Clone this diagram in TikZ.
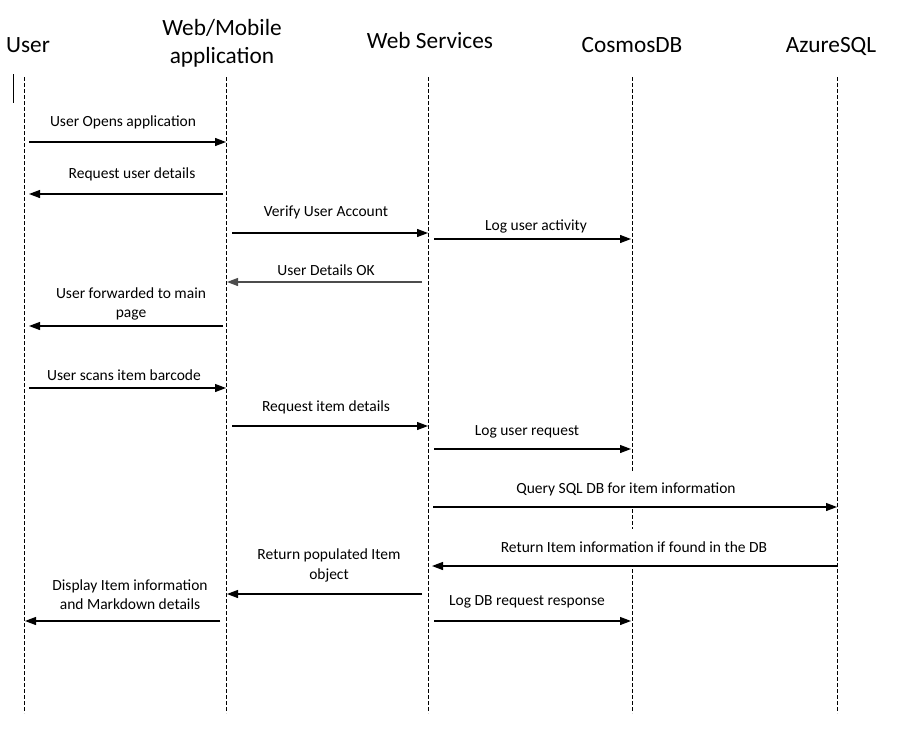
\documentclass[tikz,border=0pt]{standalone}
\usepackage{fontspec}
\setmainfont{Carlito}
\usetikzlibrary{arrows.meta}
\begin{document}
\begin{tikzpicture}[x=1pt,y=-1pt,
  head/.style={font=\fontsize{23.3}{28}\selectfont, align=center, inner sep=0pt},
  lbl/.style={font=\fontsize{15.5}{19.5}\selectfont, align=center, inner sep=1pt},
  life/.style={draw=black, line width=0.9pt, dash pattern=on 4pt off 2pt},
  msg/.style={draw=black, line width=1.2pt, -{Triangle[length=11pt,width=8pt]}},
  gapbox/.style={fill=white, inner xsep=1pt},
]
\useasboundingbox (0,0) rectangle (902,736);

% headers
\node[head, anchor=base] (hUser) at (28,52) {User};
\node[head, anchor=north] (hApp) at (222,19) {Web/Mobile\\application};
\node[head, anchor=base] (hWeb) at (430,48) {Web Services};
\node[head, anchor=base] (hCos) at (632,52) {CosmosDB};
\node[head, anchor=base] (hSql) at (831,52) {AzureSQL};

% lifelines
\coordinate (uT) at (24,77);  \coordinate (uB) at (24,713);
\coordinate (aT) at (226,77); \coordinate (aB) at (226,713);
\coordinate (wT) at (428,77); \coordinate (wB) at (428,713);
\coordinate (cT) at (632,77); \coordinate (cB) at (632,713);
\coordinate (sT) at (837,77); \coordinate (sB) at (837,713);
\draw[life] (uT) -- (uB);
\draw[life] (aT) -- (aB);
\draw[life] (wT) -- (wB);
\draw[life] (cT) -- (cB);
\draw[life] (sT) -- (sB);

% small mark
\coordinate (tkA) at (13,74); \coordinate (tkB) at (13,103);
\draw[line width=1pt] (tkA) -- (tkB);

% labels
\node[lbl] (L1) at (123,122) {User Opens application};
\node[lbl] (L2) at (132,174) {Request user details};
\node[lbl] (L3) at (326,212.5) {Verify User Account};
\node[lbl] (L4) at (536,226.5) {Log user activity};
\node[lbl] (L5) at (326,270) {User Details OK};
\node[lbl] (L6) at (131,304) {User forwarded to main\\page};
\node[lbl] (L7) at (124,375) {User scans item barcode};
\node[lbl] (L8) at (326,407.5) {Request item details};
\node[lbl] (L9) at (527,431.5) {Log user request};
\node[lbl, gapbox, minimum height=33pt] (L10) at (626,489) {Query SQL DB for item information};
\node[lbl, gapbox, minimum height=36pt] (L11) at (634,547) {Return Item information if found in the DB};
\node[lbl] (L12) at (329,565.5) {Return populated Item\\object};
\node[lbl] (L13) at (130,594.5) {Display Item information\\and Markdown details};
\node[lbl] (L14) at (527,601.5) {Log DB request response};

% message end points
\coordinate (m1a) at (29,142);  \coordinate (m1b) at (226,142);
\coordinate (m2a) at (223,194); \coordinate (m2b) at (29,194);
\coordinate (m3a) at (232,233); \coordinate (m3b) at (428,233);
\coordinate (m4a) at (434,239); \coordinate (m4b) at (631,239);
\coordinate (m5a) at (422,282); \coordinate (m5b) at (227,282);
\coordinate (m6a) at (223,326); \coordinate (m6b) at (29,326);
\coordinate (m7a) at (29,388);  \coordinate (m7b) at (226,388);
\coordinate (m8a) at (232,426); \coordinate (m8b) at (428,426);
\coordinate (m9a) at (434,449); \coordinate (m9b) at (631,449);
\coordinate (m10a) at (433,507); \coordinate (m10b) at (837,507);
\coordinate (m11a) at (837,566); \coordinate (m11b) at (432,566);
\coordinate (m12a) at (422,594); \coordinate (m12b) at (227,594);
\coordinate (m13a) at (220,621); \coordinate (m13b) at (25,621);
\coordinate (m14a) at (434,621); \coordinate (m14b) at (631,621);

\draw[msg] (m1a) -- (m1b);
\draw[msg] (m2a) -- (m2b);
\draw[msg] (m3a) -- (m3b);
\draw[msg] (m4a) -- (m4b);
\draw[msg, draw=black!70] (m5a) -- (m5b);
\draw[msg] (m6a) -- (m6b);
\draw[msg] (m7a) -- (m7b);
\draw[msg] (m8a) -- (m8b);
\draw[msg] (m9a) -- (m9b);
\draw[msg] (m10a) -- (m10b);
\draw[msg] (m11a) -- (m11b);
\draw[msg] (m12a) -- (m12b);
\draw[msg] (m13a) -- (m13b);
\draw[msg] (m14a) -- (m14b);
\end{tikzpicture}
\end{document}
